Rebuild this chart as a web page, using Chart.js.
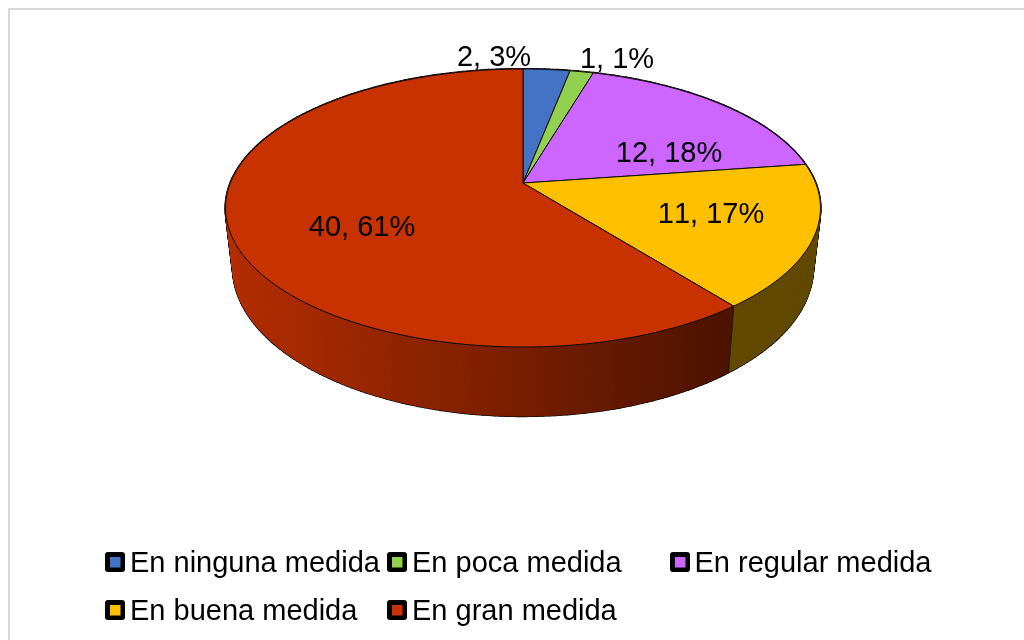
<!DOCTYPE html>
<html lang="es">
<head>
<meta charset="utf-8">
<title>Gráfico</title>
<style>html,body{margin:0;padding:0;background:#fff;overflow:hidden}canvas{display:block}</style>
<script src="https://cdn.jsdelivr.net/npm/chart.js@4/dist/chart.umd.min.js"></script>
</head>
<body>
<canvas id="c" width="1024" height="640"></canvas>
<script>
const categories = ["En ninguna medida", "En poca medida", "En regular medida", "En buena medida", "En gran medida"];
const values = [2, 1, 12, 11, 40];
const percents = [3, 1, 18, 17, 61];
const colors = ["#4472C4", "#92D050", "#CC66FF", "#FFC000", "#C83200"];

const FONT = '29px "Liberation Sans", Arial, sans-serif';
const labelAnchors = [[494, 58], [617, 60], [669, 154], [711, 215], [362, 228]];
const legendCells = [[105, 130, 562], [387, 412, 562], [670, 694.5, 562], [105, 130, 610], [387, 412, 610]];
const TOP = {cx: 523, cy: 183, a: 292.6, b: 134.5, k: 0.18};
const BASE = {cx: 523, cy: 240.8, a: 285.3, b: 143.7, k: 0.18};

function project(p, ang) {
  const u = Math.cos(ang), v = Math.sin(ang), d = 1 - p.k * v;
  return [p.cx + p.a * u / d, p.cy + p.b * v / d];
}
function shade(hex, f) {
  const n = parseInt(hex.slice(1), 16);
  return `rgb(${Math.round((n >> 16 & 255) * f)},${Math.round((n >> 8 & 255) * f)},${Math.round((n & 255) * f)})`;
}
function sideGradient(ctx, color) {
  const g = ctx.createLinearGradient(230, 0, 725, 0);
  g.addColorStop(0, shade(color, 0.9));
  g.addColorStop(1, shade(color, 0.38));
  return g;
}

const pie3d = {
  id: "pie3d",
  beforeDatasetsDraw(chart) {
    const ctx = chart.ctx;
    const arcs = chart.getDatasetMeta(0).data;
    const STEP = Math.PI / 180;
    ctx.save();

    // frame of the chart area (right and bottom run off the picture)
    ctx.strokeStyle = "#d9d9d9";
    ctx.lineWidth = 2;
    ctx.strokeRect(9, 9, 1100, 700);

    // wall of the pie: one pass for the dark outline, one for the fill
    const quads = [];
    arcs.forEach((arc, i) => {
      const n = Math.max(1, Math.ceil((arc.endAngle - arc.startAngle) / STEP));
      for (let s = 0; s < n; s++) {
        const a0 = arc.startAngle + (arc.endAngle - arc.startAngle) * s / n;
        const a1 = arc.startAngle + (arc.endAngle - arc.startAngle) * (s + 1) / n;
        quads.push({i, pts: [project(TOP, a0), project(TOP, a1), project(BASE, a1), project(BASE, a0)]});
      }
    });
    const trace = pts => {
      ctx.beginPath();
      pts.forEach((p, j) => j ? ctx.lineTo(p[0], p[1]) : ctx.moveTo(p[0], p[1]));
      ctx.closePath();
    };
    ctx.lineJoin = "round";
    ctx.strokeStyle = "#000";
    ctx.lineWidth = 2.2;
    quads.forEach(q => { trace(q.pts); ctx.stroke(); });
    quads.forEach(q => {
      const g = sideGradient(ctx, colors[q.i]);
      ctx.fillStyle = g; ctx.strokeStyle = g; ctx.lineWidth = 1;
      trace(q.pts); ctx.fill(); ctx.stroke();
    });
    // slice seams on the wall
    ctx.strokeStyle = "#1a1a00";
    ctx.lineWidth = 1;
    arcs.forEach(arc => {
      const t = project(TOP, arc.startAngle), b = project(BASE, arc.startAngle);
      ctx.beginPath(); ctx.moveTo(t[0], t[1]); ctx.lineTo(b[0], b[1]); ctx.stroke();
    });

    // top face
    arcs.forEach((arc, i) => {
      const n = Math.max(2, Math.ceil((arc.endAngle - arc.startAngle) / STEP));
      ctx.beginPath();
      ctx.moveTo(TOP.cx, TOP.cy);
      for (let s = 0; s <= n; s++) {
        const p = project(TOP, arc.startAngle + (arc.endAngle - arc.startAngle) * s / n);
        ctx.lineTo(p[0], p[1]);
      }
      ctx.closePath();
      ctx.fillStyle = colors[i];
      ctx.fill();
      ctx.strokeStyle = "#0a0a0a";
      ctx.lineWidth = 1;
      ctx.stroke();
    });

    // data labels
    ctx.font = FONT;
    ctx.fontKerning = "none";
    ctx.fillStyle = "#000";
    ctx.textAlign = "center";
    ctx.textBaseline = "middle";
    values.forEach((v, i) => {
      ctx.fillText(`${v}, ${percents[i]}%`, labelAnchors[i][0], labelAnchors[i][1]);
    });

    // legend
    ctx.textAlign = "left";
    ctx.textBaseline = "alphabetic";
    categories.forEach((name, i) => {
      const [x, tx, y] = legendCells[i];
      ctx.fillStyle = "#000";
      ctx.beginPath();
      ctx.roundRect(x, y - 10, 20, 20, 3);
      ctx.fill();
      ctx.fillStyle = colors[i];
      ctx.fillRect(x + 5, y - 5, 10.5, 10.5);
      ctx.fillStyle = "#000";
      ctx.fillText(name, tx, y + 9.5);
    });
    ctx.restore();
    return false; // the projected pie above replaces the flat one
  }
};

new Chart(document.getElementById("c"), {
  type: "pie",
  data: {labels: categories, datasets: [{data: values, backgroundColor: colors, borderColor: "#000", borderWidth: 1}]},
  options: {
    responsive: false,
    animation: false,
    plugins: {legend: {display: false}, tooltip: {enabled: false}}
  },
  plugins: [pie3d]
});
</script>
</body>
</html>
